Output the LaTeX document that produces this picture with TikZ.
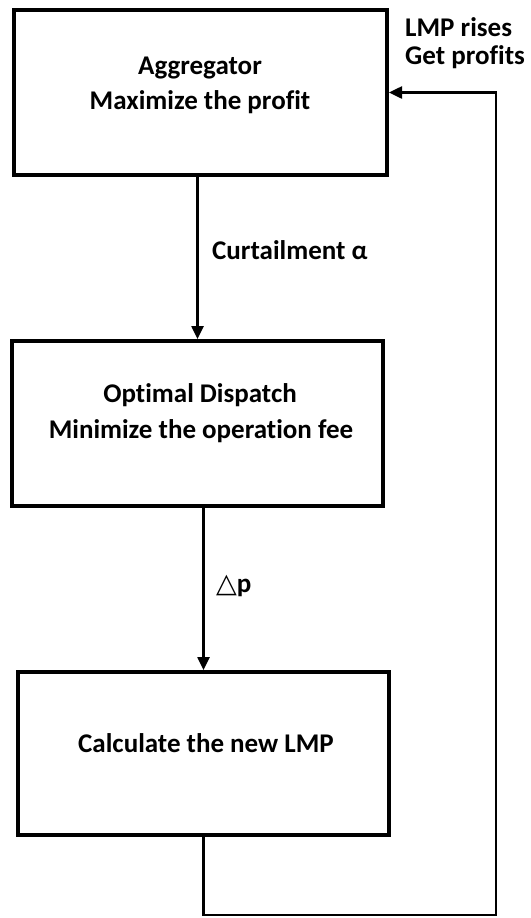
\documentclass[tikz,border=0pt]{standalone}
\usepackage{fontspec}
\setmainfont{Carlito}[Ligatures={NoCommon}]
\newfontfamily\symfont{DejaVu Sans}
\usetikzlibrary{arrows.meta}
\begin{document}
\begin{tikzpicture}[x=1bp,y=-1bp,
  box/.style={draw,line width=4bp,rectangle,inner sep=0pt},
  txt/.style={font=\fontsize{27bp}{33bp}\selectfont\bfseries,anchor=base,inner sep=0pt},
  conn/.style={line width=2.5bp,-{Triangle[length=13bp,width=12bp]}}]
\useasboundingbox (0,0) rectangle (531,918);
\node[box,minimum width=373bp,minimum height=165bp] (b1) at (200.5,92.5) {};
\node[box,minimum width=371bp,minimum height=165bp] (b2) at (197.5,423.5) {};
\node[box,minimum width=371bp,minimum height=163bp] (b3) at (203.5,753.5) {};
\node[txt] (t1a) at (200,74) {Aggregator};
\node[txt] (t1b) at (200,109) {Maximize the profit};
\node[txt] (t2a) at (200,402) {Optimal Dispatch};
\node[txt] (t2b) at (201,438) {Minimize the operation fee};
\node[txt] (t3) at (206,752) {Calculate the new LMP};
\node[txt,anchor=base west] (l1) at (212,259) {Curtailment α};
\node[txt,anchor=base west] (l2) at (216,592) {{\symfont\mdseries △}p};
\node[txt,anchor=base west] (l3) at (405,36) {LMP rises};
\node[txt,anchor=base west] (l4) at (405,64) {Get profits};
\coordinate (c1) at (496,915);
\draw[conn] (b2.north |- b1.south) -- (b2.north);
\draw[conn] (b3.north |- b2.south) -- (b3.north);
\draw[conn] (b3.south) |- (c1) |- (b1.east);
\end{tikzpicture}
\end{document}
